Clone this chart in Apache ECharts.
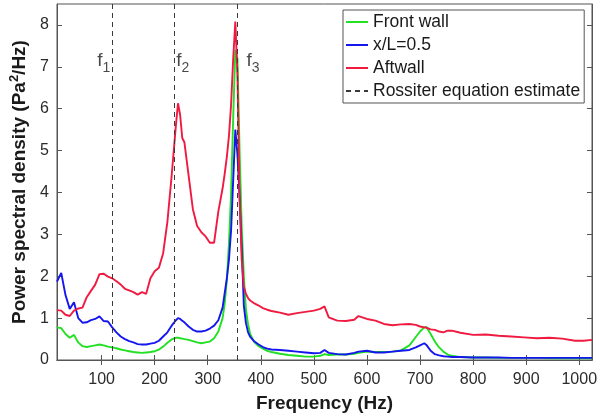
<!DOCTYPE html>
<html>
<head>
<meta charset="utf-8">
<script src="https://cdn.jsdelivr.net/npm/echarts@6/dist/echarts.min.js"></script>
<style>
  html, body { margin: 0; padding: 0; background: #fff; }
  #chart { width: 607px; height: 418px; }
</style>
</head>
<body>
<div id="chart"></div>
<script>
// Frequency grid (Hz) shared by the three pressure spectra
const freqHz = [
  16, 24, 32, 40, 48, 56, 64, 72, 80, 88,
  96, 104, 112, 120, 128, 136, 144, 152, 160, 168,
  176, 184, 192, 200, 208, 216, 224, 232, 240, 244,
  248, 252, 256, 264, 272, 280, 288, 296, 304, 312,
  320, 328, 332, 336, 340, 344, 348, 352, 356, 360,
  364, 368, 372, 376, 380, 388, 396, 404, 412, 420,
  436, 452, 468, 484, 500, 512, 520, 528, 544, 560,
  576, 584, 600, 616, 632, 648, 664, 680, 692, 700,
  708, 712, 720, 728, 736, 744, 752, 760, 776, 800,
  824, 848, 872, 896, 920, 944, 968, 992, 1008, 1024
];

// Power spectral density (Pa^2/Hz) at the front wall
const frontWall = [
  0.78, 0.76, 0.62, 0.53, 0.60, 0.42, 0.33, 0.31, 0.33, 0.35,
  0.37, 0.35, 0.32, 0.30, 0.28, 0.25, 0.23, 0.21, 0.19, 0.18,
  0.17, 0.18, 0.19, 0.21, 0.25, 0.32, 0.41, 0.49, 0.53, 0.53,
  0.52, 0.51, 0.50, 0.48, 0.45, 0.42, 0.40, 0.42, 0.44, 0.52,
  0.68, 1.00, 1.35, 1.90, 2.80, 4.00, 5.80, 7.40, 7.20, 5.00,
  3.20, 2.00, 1.20, 0.85, 0.62, 0.42, 0.33, 0.27, 0.22, 0.19,
  0.15, 0.12, 0.10, 0.08, 0.08, 0.10, 0.14, 0.12, 0.13, 0.13,
  0.15, 0.17, 0.20, 0.19, 0.19, 0.20, 0.23, 0.35, 0.55, 0.68,
  0.78, 0.79, 0.62, 0.44, 0.30, 0.20, 0.13, 0.10, 0.07, 0.06,
  0.06, 0.05, 0.05, 0.05, 0.05, 0.04, 0.04, 0.04, 0.04, 0.04
];

// Power spectral density at mid-cavity, x/L = 0.5
const midCavity = [
  1.87, 2.08, 1.55, 1.22, 1.38, 1.00, 0.89, 0.90, 0.95, 0.98,
  1.04, 0.93, 0.92, 0.78, 0.66, 0.56, 0.50, 0.45, 0.42, 0.38,
  0.37, 0.37, 0.39, 0.41, 0.46, 0.56, 0.66, 0.82, 0.95, 1.00,
  0.98, 0.94, 0.90, 0.80, 0.72, 0.68, 0.68, 0.70, 0.75, 0.82,
  0.95, 1.25, 1.60, 1.95, 2.40, 3.10, 4.30, 5.50, 4.90, 3.90,
  2.70, 1.30, 0.88, 0.66, 0.55, 0.44, 0.37, 0.31, 0.27, 0.25,
  0.24, 0.22, 0.20, 0.18, 0.16, 0.17, 0.24, 0.17, 0.14, 0.13,
  0.17, 0.20, 0.22, 0.18, 0.18, 0.20, 0.22, 0.24, 0.30, 0.35,
  0.40, 0.36, 0.22, 0.14, 0.11, 0.09, 0.08, 0.07, 0.07, 0.06,
  0.06, 0.06, 0.05, 0.05, 0.05, 0.05, 0.05, 0.05, 0.05, 0.05
];

// Power spectral density at the aft wall
const aftWall = [
  1.19, 1.18, 1.08, 1.05, 1.18, 1.23, 1.25, 1.50, 1.65, 1.80,
  2.05, 2.06, 1.99, 1.95, 1.88, 1.80, 1.70, 1.66, 1.62, 1.56,
  1.62, 1.58, 1.95, 2.12, 2.20, 2.55, 3.30, 4.40, 5.60, 6.13,
  5.85, 5.30, 5.20, 4.40, 3.60, 3.20, 3.05, 2.95, 2.80, 2.80,
  3.55, 4.10, 4.45, 4.85, 5.35, 6.10, 7.20, 8.08, 6.80, 3.90,
  2.40, 1.75, 1.58, 1.48, 1.42, 1.35, 1.30, 1.24, 1.20, 1.17,
  1.13, 1.08, 1.12, 1.15, 1.18, 1.22, 1.28, 1.02, 0.94, 0.93,
  0.96, 1.05, 0.98, 0.94, 0.86, 0.83, 0.85, 0.86, 0.84, 0.80,
  0.78, 0.77, 0.73, 0.72, 0.68, 0.66, 0.70, 0.70, 0.65, 0.60,
  0.61, 0.58, 0.56, 0.54, 0.52, 0.53, 0.51, 0.46, 0.46, 0.48
];

// Rossiter mode frequencies (Hz) and their mode numbers
const rossiterHz = [120, 237, 356];
const rossiterModes = ['1', '2', '3'];
const modeLabelLevel = 7.15;

// Axis ranges and tick labels
const freqRange = [16, 1024];
const psdRange = [0, 8.5];
const freqTicks = [100, 200, 300, 400, 500, 600, 700, 800, 900, 1000];
const psdTicks = [0, 1, 2, 3, 4, 5, 6, 7, 8];

const seriesNames = ['Front wall', 'x/L=0.5', 'Aftwall', 'Rossiter equation estimate'];
const seriesColors = ['#22e022', '#1515f0', '#f01a40', '#3a3a3a'];

const FONT = '"Liberation Sans", Arial, Helvetica, sans-serif';
const AXIS_COLOR = '#555';
const TEXT_COLOR = '#2b2b2b';

const pairs = (values) => freqHz.map((f, i) => [f, values[i]]);

function spectrum(name, values, color) {
  return {
    name: name,
    type: 'line',
    data: pairs(values),
    showSymbol: false,
    symbol: 'none',
    smooth: false,
    lineStyle: { color: color, width: 1.9 },
    itemStyle: { color: color },
    animation: false,
    z: 3
  };
}

const labelPlacement = [
  { position: 'left', distance: 2 },
  { position: 'right', distance: 2 },
  { position: 'right', distance: 9 }
];

const chart = echarts.init(document.getElementById('chart'), null, { renderer: 'canvas' });

chart.setOption({
  backgroundColor: '#fff',
  animation: false,
  textStyle: { fontFamily: FONT },
  grid: {
    left: 57, right: 15, top: 4, bottom: 58,
    show: true, borderColor: AXIS_COLOR, borderWidth: 1, backgroundColor: 'transparent'
  },
  legend: {
    data: seriesNames,
    orient: 'vertical',
    left: 343, top: 10,
    backgroundColor: '#fff',
    borderColor: AXIS_COLOR, borderWidth: 1, borderRadius: 0,
    padding: [3, 4, 3, 2],
    itemWidth: 22, itemHeight: 16, itemGap: 5,
    itemStyle: { color: 'transparent', borderWidth: 0, opacity: 0 },
    textStyle: { fontSize: 17.5, color: '#1a1a1a', fontFamily: FONT, lineHeight: 16 },
    selectedMode: false
  },
  xAxis: [
    {
      type: 'value', min: freqRange[0], max: freqRange[1],
      name: 'Frequency (Hz)', nameLocation: 'middle', nameGap: 34,
      nameTextStyle: { fontSize: 19, fontWeight: 'bold', color: '#1a1a1a', fontFamily: FONT },
      axisLine: { show: true, lineStyle: { color: AXIS_COLOR, width: 1 } },
      axisTick: { show: true, inside: true, length: 5, customValues: freqTicks, lineStyle: { color: AXIS_COLOR } },
      axisLabel: {
        show: true, customValues: freqTicks, fontSize: 16, color: TEXT_COLOR, margin: 12, fontFamily: FONT,
        formatter: (v) => String(v)
      },
      splitLine: { show: false }
    },
    {
      type: 'value', position: 'top', min: freqRange[0], max: freqRange[1],
      axisLine: { show: true, lineStyle: { color: AXIS_COLOR, width: 1 } },
      axisTick: { show: true, inside: true, length: 5, customValues: freqTicks, lineStyle: { color: AXIS_COLOR } },
      axisLabel: { show: false },
      splitLine: { show: false }
    }
  ],
  yAxis: [
    {
      type: 'value', min: psdRange[0], max: psdRange[1],
      name: 'Power spectral density (Pa{sup|2}/Hz)', nameLocation: 'middle', nameGap: 20,
      nameTextStyle: {
        fontSize: 19, fontWeight: 'bold', color: '#1a1a1a', fontFamily: FONT,
        rich: { sup: { fontSize: 13, fontWeight: 'bold', color: '#1a1a1a', fontFamily: FONT, padding: [0, 0, 10, 0] } }
      },
      axisLine: { show: true, lineStyle: { color: AXIS_COLOR, width: 1 } },
      axisTick: { show: true, inside: true, length: 5, customValues: psdTicks, lineStyle: { color: AXIS_COLOR } },
      axisLabel: { show: true, customValues: psdTicks, fontSize: 16, color: TEXT_COLOR, margin: 8, fontFamily: FONT },
      splitLine: { show: false }
    },
    {
      type: 'value', position: 'right', min: psdRange[0], max: psdRange[1],
      axisLine: { show: true, lineStyle: { color: AXIS_COLOR, width: 1 } },
      axisTick: { show: true, inside: true, length: 5, customValues: psdTicks, lineStyle: { color: AXIS_COLOR } },
      axisLabel: { show: false },
      splitLine: { show: false }
    }
  ],
  series: [
    spectrum(seriesNames[0], frontWall, seriesColors[0]),
    spectrum(seriesNames[1], midCavity, seriesColors[1]),
    spectrum(seriesNames[2], aftWall, seriesColors[2]),
    {
      name: seriesNames[3],
      type: 'line',
      data: [],
      symbol: 'none',
      lineStyle: { color: seriesColors[3], width: 1, type: [5, 4] },
      itemStyle: { color: seriesColors[3] },
      markLine: {
        silent: true,
        symbol: 'none',
        label: { show: false },
        lineStyle: { color: seriesColors[3], width: 1, type: [5, 4] },
        data: rossiterHz.map((f) => ({ xAxis: f }))
      },
      z: 4
    },
    {
      name: 'mode labels',
      type: 'scatter',
      symbolSize: 0,
      silent: true,
      data: rossiterHz.map((f, i) => ({
        value: [f, modeLabelLevel],
        label: {
          show: true,
          position: labelPlacement[i].position,
          distance: labelPlacement[i].distance,
          formatter: '{f|f}{s|' + rossiterModes[i] + '}',
          rich: {
            f: { fontSize: 19, lineHeight: 19, color: '#1a1a1a', fontFamily: FONT, verticalAlign: 'top' },
            s: { fontSize: 14, lineHeight: 14, color: '#1a1a1a', fontFamily: FONT, verticalAlign: 'top', padding: [10, 0, 0, 0] }
          }
        }
      })),
      z: 5
    }
  ]
});
</script>
</body>
</html>
